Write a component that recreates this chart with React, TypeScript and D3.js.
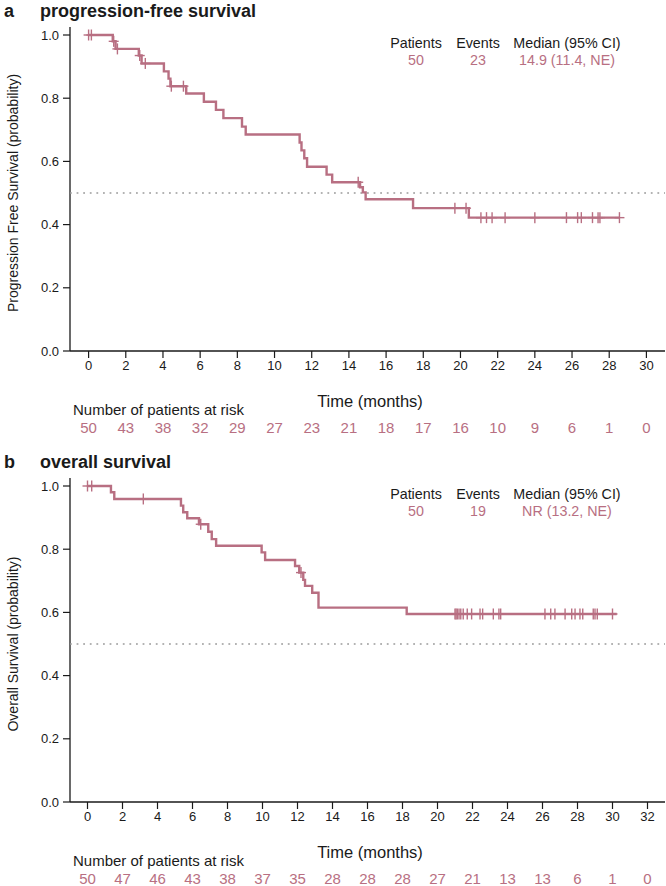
import React from "react";
import * as d3 from "d3";

const FONT = "'Liberation Sans', Arial, Helvetica, sans-serif";
const PINK = "#b86f82";
const TEXT = "#1a1a1a";

// ---- Panel a: progression-free survival ----
const pfsEventTimes = [1.3, 1.45, 2.7, 2.85, 4.05, 4.3, 4.4, 5.25, 6.2, 6.85, 7.25, 8.25, 8.45, 11.35, 11.45, 11.6, 11.75, 12.8, 13.1, 14.6, 14.75, 14.9, 17.45, 20.45];
const pfsSurvival = [0.98, 0.956, 0.935, 0.91, 0.885, 0.862, 0.838, 0.815, 0.789, 0.763, 0.737, 0.71, 0.685, 0.66, 0.635, 0.61, 0.583, 0.558, 0.534, 0.518, 0.502, 0.48, 0.452, 0.422];
const pfsCensorTimes = [0.0, 0.15, 1.35, 1.55, 2.75, 3.05, 4.45, 5.1, 14.5, 19.7, 20.3, 21.1, 21.4, 21.7, 22.4, 24.0, 25.7, 26.3, 26.5, 27.1, 27.4, 27.5, 28.55];
const pfsEndTime = 28.55;
const pfsAtRisk = [50, 43, 38, 32, 29, 27, 23, 21, 18, 17, 16, 10, 9, 6, 1, 0];
const pfsTicks = [0, 2, 4, 6, 8, 10, 12, 14, 16, 18, 20, 22, 24, 26, 28, 30];
const pfsLegendValues = ["50", "23", "14.9 (11.4, NE)"];

// ---- Panel b: overall survival ----
const osEventTimes = [1.34, 1.53, 5.34, 5.47, 5.7, 6.37, 6.9, 7.1, 7.35, 9.95, 10.15, 11.86, 12.1, 12.33, 12.43, 12.84, 13.2, 18.24];
const osSurvival = [0.98, 0.959, 0.938, 0.917, 0.898, 0.879, 0.855, 0.832, 0.811, 0.79, 0.766, 0.747, 0.726, 0.703, 0.684, 0.662, 0.615, 0.595];
const osCensorTimes = [0.0, 0.24, 3.19, 6.47, 12.2, 21.0, 21.06, 21.13, 21.23, 21.33, 21.47, 21.7, 21.95, 22.43, 22.58, 23.19, 23.51, 23.61, 26.14, 26.47, 26.71, 27.29, 27.67, 27.86, 28.14, 28.3, 28.9, 29.0, 29.13, 30.0];
const osEndTime = 30.24;
const osAtRisk = [50, 47, 46, 43, 38, 37, 35, 28, 28, 28, 27, 21, 13, 13, 6, 1, 0];
const osTicks = [0, 2, 4, 6, 8, 10, 12, 14, 16, 18, 20, 22, 24, 26, 28, 30, 32];
const osLegendValues = ["50", "19", "NR (13.2, NE)"];

const yTicks = [0, 0.2, 0.4, 0.6, 0.8, 1.0];
const legendHeaders = ["Patients", "Events", "Median (95% CI)"];

type PanelProps = {
  letter: string;
  title: string;
  yTitle: string;
  top: number;
  bottom: number;
  xMax: number;
  ticks: number[];
  eventTimes: number[];
  survival: number[];
  censorTimes: number[];
  endTime: number;
  atRisk: number[];
  legendValues: string[];
};

function survivalAt(t: number, times: number[], surv: number[]) {
  let s = 1;
  for (let i = 0; i < times.length; i++) {
    if (times[i] <= t) s = surv[i];
  }
  return s;
}

function Panel(p: PanelProps) {
  const x = d3.scaleLinear().domain([-1, p.xMax + 1]).range([70, 665]);
  const y = d3.scaleLinear().domain([0, 1]).range([p.bottom, p.top]);
  const pts: [number, number][] = [[0, 1]];
  p.eventTimes.forEach((t, i) => pts.push([t, p.survival[i]]));
  pts.push([p.endTime, p.survival[p.survival.length - 1]]);
  const line = d3
    .line<[number, number]>()
    .x((d) => x(d[0]))
    .y((d) => y(d[1]))
    .curve(d3.curveStepAfter);
  const legendX = [416, 478, 567];
  const titleCy = p.top - 24;
  return (
    <g>
      <text x={4} y={titleCy + 6} fontFamily={FONT} fontWeight="bold" fontSize={18} fill={TEXT}>
        {p.letter}
      </text>
      <text x={40} y={titleCy + 6} fontFamily={FONT} fontWeight="bold" fontSize={18} fill={TEXT}>
        {p.title}
      </text>
      {/* y axis */}
      <line x1={70} x2={70} y1={y(1.025)} y2={p.bottom} stroke={TEXT} strokeWidth={1.3} />
      {yTicks.map((v) => (
        <g key={v}>
          <line x1={63} x2={70} y1={y(v)} y2={y(v)} stroke={TEXT} strokeWidth={1.2} />
          <text x={59} y={y(v) + 4.5} textAnchor="end" fontFamily={FONT} fontSize={13} fill={TEXT}>
            {v.toFixed(1)}
          </text>
        </g>
      ))}
      <text
        transform={`translate(18,${(p.top + p.bottom) / 2}) rotate(-90)`}
        textAnchor="middle"
        fontFamily={FONT}
        fontSize={14}
        fill={TEXT}
      >
        {p.yTitle}
      </text>
      {/* x axis */}
      <line x1={70} x2={665} y1={p.bottom} y2={p.bottom} stroke={TEXT} strokeWidth={1.3} />
      {p.ticks.map((t) => (
        <g key={t}>
          <line x1={x(t)} x2={x(t)} y1={p.bottom} y2={p.bottom + 7} stroke={TEXT} strokeWidth={1.2} />
          <text x={x(t)} y={p.bottom + 19} textAnchor="middle" fontFamily={FONT} fontSize={13} fill={TEXT}>
            {t}
          </text>
        </g>
      ))}
      <text x={370} y={p.bottom + 56} textAnchor="middle" fontFamily={FONT} fontSize={16.5} fill={TEXT}>
        Time (months)
      </text>
      <text x={73} y={p.bottom + 64} fontFamily={FONT} fontSize={15} fill={TEXT}>
        Number of patients at risk
      </text>
      {p.atRisk.map((n, i) => (
        <text key={i} x={x(p.ticks[i])} y={p.bottom + 82} textAnchor="middle" fontFamily={FONT} fontSize={15} fill={PINK}>
          {n}
        </text>
      ))}
      {/* median reference */}
      <line x1={70} x2={665} y1={y(0.5)} y2={y(0.5)} stroke="#9a9a9a" strokeWidth={1.3} strokeDasharray="1.8,4.8" />
      {/* legend */}
      {legendHeaders.map((h, i) => (
        <text key={h} x={legendX[i]} y={p.top + 13} textAnchor="middle" fontFamily={FONT} fontSize={14.3} fill={TEXT}>
          {h}
        </text>
      ))}
      {p.legendValues.map((v, i) => (
        <text key={i} x={legendX[i]} y={p.top + 30} textAnchor="middle" fontFamily={FONT} fontSize={14.3} fill={PINK}>
          {v}
        </text>
      ))}
      {/* curve */}
      <path d={line(pts) || ""} fill="none" stroke={PINK} strokeWidth={2.4} />
      {p.censorTimes.map((c, i) => {
        const cx = x(c);
        const cy = y(survivalAt(c, p.eventTimes, p.survival));
        return (
          <g key={i} stroke={PINK} strokeWidth={1.4}>
            <line x1={cx} x2={cx} y1={cy - 5.5} y2={cy + 5.5} />
            <line x1={cx - 5} x2={cx + 5} y1={cy} y2={cy} />
          </g>
        );
      })}
    </g>
  );
}

export default function App() {
  return (
    <svg
      width={666}
      height={886}
      style={{ position: "absolute", left: 0, top: 0, background: "#fff" }}
    >
      <rect width={666} height={886} fill="#fff" />
      <Panel
        letter="a"
        title="progression-free survival"
        yTitle="Progression Free Survival (probability)"
        top={35}
        bottom={351}
        xMax={30}
        ticks={pfsTicks}
        eventTimes={pfsEventTimes}
        survival={pfsSurvival}
        censorTimes={pfsCensorTimes}
        endTime={pfsEndTime}
        atRisk={pfsAtRisk}
        legendValues={pfsLegendValues}
      />
      <Panel
        letter="b"
        title="overall survival"
        yTitle="Overall Survival (probability)"
        top={486}
        bottom={802}
        xMax={32}
        ticks={osTicks}
        eventTimes={osEventTimes}
        survival={osSurvival}
        censorTimes={osCensorTimes}
        endTime={osEndTime}
        atRisk={osAtRisk}
        legendValues={osLegendValues}
      />
    </svg>
  );
}
